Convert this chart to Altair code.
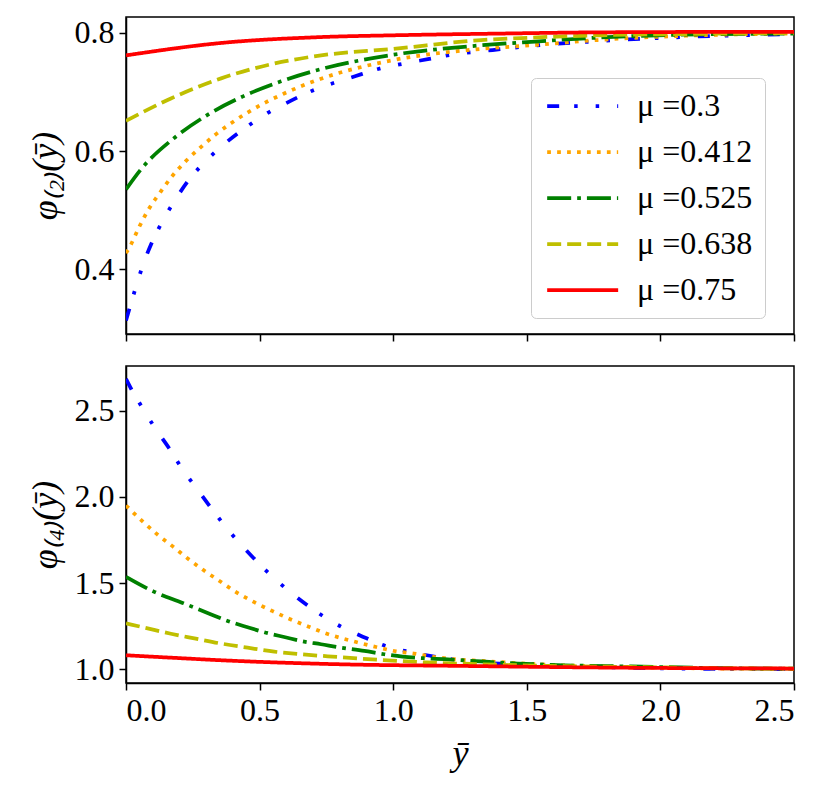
import altair as alt
import pandas as pd

# ---------------- data ----------------
mu_labels = ["μ =0.3", "μ =0.412", "μ =0.525", "μ =0.638", "μ =0.75"]
mu_colors = ["#0000ff", "#ffa500", "#008000", "#bfbf00", "#ff0000"]
mu_dashes = [[12, 15, 3.5, 18, 3.5, 18], [3.75, 6.2], [24, 6, 3.75, 6], [14, 6], [1, 0]]

# top panel: phi_(2)
x2_a = [0, 0.034, 0.059, 0.094, 0.138, 0.181, 0.237, 0.303, 0.366, 0.443, 0.524, 0.599,
        0.686, 0.86, 0.944, 1.051, 1.135, 1.229, 1.329, 1.413, 1.516, 1.765, 2.077, 2.5]
y2_a = [0.313, 0.365, 0.401, 0.442, 0.482, 0.515, 0.552, 0.585, 0.611, 0.638, 0.663, 0.681,
        0.700, 0.727, 0.739, 0.749, 0.756, 0.764, 0.769, 0.773, 0.778, 0.786, 0.793, 0.798]
x2_b = [0, 0.019, 0.050, 0.087, 0.128, 0.172, 0.222, 0.276, 0.333, 0.393, 0.458, 0.521,
        0.590, 0.657, 0.727, 1.0, 1.329, 1.516, 1.765, 2.077, 2.5]
y2_b = [0.427, 0.442, 0.472, 0.503, 0.530, 0.557, 0.582, 0.605, 0.627, 0.647, 0.666, 0.682,
        0.697, 0.710, 0.722, 0.754, 0.773, 0.779, 0.788, 0.795, 0.799]
x2_c = [0, 0.056, 0.183, 0.308, 0.440, 0.580, 0.724, 1.0, 1.329, 1.516, 1.765, 2.077, 2.5]
y2_c = [0.535, 0.569, 0.623, 0.662, 0.693, 0.718, 0.738, 0.763, 0.779, 0.785, 0.792, 0.797, 0.799]
x2_d = [0, 0.168, 0.356, 0.543, 0.730, 1.0, 1.329, 1.516, 1.765, 2.077, 2.5]
y2_d = [0.651, 0.689, 0.723, 0.747, 0.762, 0.773, 0.788, 0.792, 0.796, 0.798, 0.800]
x2_e = [0, 0.356, 0.730, 1.0, 1.413, 1.765, 2.5]
y2_e = [0.762, 0.783, 0.793, 0.796, 0.799, 0.801, 0.802]

# bottom panel: phi_(4)
x4_a = [0, 0.019, 0.062, 0.106, 0.162, 0.215, 0.266, 0.324, 0.384, 0.440, 0.508, 0.580,
        0.645, 0.724, 0.807, 0.886, 0.975, 1.073, 1.247, 1.541, 1.828, 2.1, 2.5]
y4_a = [2.685, 2.628, 2.516, 2.406, 2.281, 2.152, 2.046, 1.925, 1.805, 1.707, 1.597, 1.493,
        1.410, 1.322, 1.245, 1.189, 1.133, 1.097, 1.052, 1.023, 1.010, 1.003, 1.000]
x4_b = [0, 0.060, 0.116, 0.175, 0.231, 0.291, 0.353, 0.415, 0.480, 0.549, 0.617, 0.684,
        0.752, 0.861, 0.936, 1.010, 1.077, 1.154, 1.229, 1.335, 1.466, 1.63, 1.853, 2.1, 2.5]
y4_b = [1.950, 1.861, 1.784, 1.713, 1.643, 1.574, 1.509, 1.445, 1.389, 1.337, 1.289, 1.247,
        1.206, 1.158, 1.129, 1.104, 1.091, 1.071, 1.058, 1.048, 1.035, 1.023, 1.013, 1.006, 1.002]
x4_c = [0, 0.106, 0.212, 0.312, 0.383, 0.452, 0.524, 0.592, 0.667, 0.730, 0.789, 0.892,
        0.967, 1.035, 1.114, 1.191, 1.329, 1.466, 1.64, 1.89, 2.2, 2.5]
y4_c = [1.536, 1.449, 1.385, 1.322, 1.279, 1.245, 1.212, 1.187, 1.160, 1.145, 1.129, 1.106,
        1.087, 1.073, 1.064, 1.058, 1.045, 1.033, 1.023, 1.016, 1.007, 1.003]
x4_d = [0, 0.081, 0.168, 0.256, 0.356, 0.455, 0.555, 0.655, 0.755, 0.954, 1.129, 1.329,
        1.578, 1.89, 2.2, 2.5]
y4_d = [1.266, 1.237, 1.206, 1.179, 1.149, 1.125, 1.102, 1.087, 1.075, 1.054, 1.039, 1.029,
        1.019, 1.013, 1.006, 1.003]
x4_e = [0, 0.18, 0.356, 0.792, 1.266, 1.765, 2.5]
y4_e = [1.081, 1.066, 1.052, 1.029, 1.019, 1.010, 1.004]

x_ticks = [0.0, 0.5, 1.0, 1.5, 2.0, 2.5]
y2_ticks = [0.4, 0.6, 0.8]
y4_ticks = [1.0, 1.5, 2.0, 2.5]


def long_frame(xs, ys):
    rows = []
    for i, (xx, yy) in enumerate(zip(xs, ys)):
        for a, b in zip(xx, yy):
            rows.append({"x": a, "y": b, "mu": mu_labels[i], "order": i})
    return pd.DataFrame(rows)


df2 = long_frame([x2_a, x2_b, x2_c, x2_d, x2_e], [y2_a, y2_b, y2_c, y2_d, y2_e])
df4 = long_frame([x4_a, x4_b, x4_c, x4_d, x4_e], [y4_a, y4_b, y4_c, y4_d, y4_e])

FONT = "Liberation Serif"

legend_cfg = alt.Legend(
    title=None, orient="none", legendX=405, legendY=61,
    symbolType="M-1,0H5", symbolSize=560, symbolStrokeWidth=3.75,
    labelFont=FONT, labelFontSize=32, labelColor="black", labelOffset=62,
    rowPadding=14, padding=12, cornerRadius=5,
    fillColor="rgba(255,255,255,0.8)", strokeColor="#cccccc",
)

color_scale = alt.Scale(domain=mu_labels, range=mu_colors)
dash_scale = alt.Scale(domain=mu_labels, range=mu_dashes)

x_scale = alt.Scale(domain=[0, 2.5], nice=False, zero=False)


def panel(df, ydom, yticks, ytitle, show_x, show_legend):
    xaxis = alt.Axis(values=x_ticks, format=".1f", labels=show_x,
                     title="ȳ" if show_x else None)
    leg = legend_cfg if show_legend else None
    return alt.Chart(df).mark_line(strokeWidth=3.75, clip=True, interpolate="monotone").encode(
        x=alt.X("x:Q", scale=x_scale, axis=xaxis),
        y=alt.Y("y:Q", scale=alt.Scale(domain=ydom, nice=False, zero=False),
                axis=alt.Axis(values=yticks, format=".1f", title=ytitle)),
        color=alt.Color("mu:N", scale=color_scale, sort=mu_labels, legend=leg),
        strokeDash=alt.StrokeDash("mu:N", scale=dash_scale, sort=mu_labels, legend=leg),
        order=alt.Order("order:Q"),
    ).properties(width=668, height=317)


top = panel(df2, [0.29, 0.827], y2_ticks, "φ₍₂₎(ȳ)", False, True)
bottom = panel(df4, [0.92, 2.76], y4_ticks, "φ₍₄₎(ȳ)", True, False)

chart = alt.vconcat(top, bottom, spacing=22).resolve_scale(
    x="shared"
).resolve_legend(color="independent", strokeDash="independent").configure_view(
    stroke="black", strokeWidth=1.5
).configure_axis(
    grid=False, domainColor="black", domainWidth=1.5, tickColor="black", tickWidth=1.5,
    tickSize=7, labelFont=FONT, labelFontSize=32, labelColor="black", labelPadding=5,
    titleFont=FONT, titleFontSize=36, titleFontWeight="normal", titleColor="black",
    titleFontStyle="italic", titlePadding=10,
).properties(padding={"left": 18, "top": 8, "right": 10, "bottom": 5}, background="white")

chart.save("out.html", embed_options={"renderer": "svg", "actions": False})
